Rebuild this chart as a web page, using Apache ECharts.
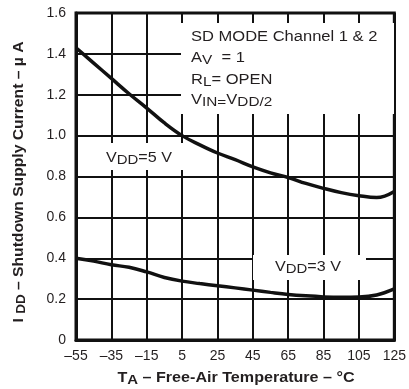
<!DOCTYPE html>
<html>
<head>
<meta charset="utf-8">
<script src="https://cdn.jsdelivr.net/npm/echarts@6/dist/echarts.min.js"></script>
<style>html,body{margin:0;padding:0;background:#fff;}#c{width:409px;height:389px;}</style>
</head>
<body>
<div id="c"></div>
<script>
// Temperature (°C), categories every 10 °C
const temps = [-55,-45,-35,-25,-15,-5,5,15,25,35,45,55,65,75,85,95,105,115,125];
// Shutdown supply current (µA)
const idd5V = [1.43,1.355,1.28,1.205,1.135,1.062,1.0,0.955,0.915,0.882,0.847,0.818,0.795,0.766,0.742,0.721,0.706,0.697,0.727];
const idd3V = [0.40,0.386,0.368,0.356,0.333,0.306,0.288,0.276,0.265,0.255,0.244,0.233,0.223,0.216,0.211,0.209,0.21,0.22,0.25];
const yTicks = [0,0.2,0.4,0.6,0.8,1.0,1.2,1.4,1.6];

const FONT = '"Liberation Sans", Arial, sans-serif';
const TXT = '#231f20';

const chart = echarts.init(document.getElementById('c'), null, {renderer:'canvas'});

function ann(x, y, text, scale) {
  return {
    type:'text', x:x, y:y, z:10, scaleX: scale || 1.16,
    style:{
      text:text, fill:TXT, font:'14px ' + FONT, fontSize:14, fontFamily:FONT,
      textAlign:'left', textVerticalAlign:'middle', align:'left', verticalAlign:'middle',
      rich:{
        n:{fontSize:14, fontFamily:FONT, lineHeight:18, fill:TXT, color:TXT},
        s:{fontSize:13, fontFamily:FONT, lineHeight:10, verticalAlign:'bottom', fill:TXT, color:TXT}
      }
    }
  };
}

const option = {
  backgroundColor:'#fff',
  animation:false,
  grid:{left:76, right:10, top:13, bottom:49, show:true, borderColor:'#111', borderWidth:3, backgroundColor:'transparent'},
  xAxis:{
    type:'category', boundaryGap:false,
    data: temps.map(String),
    axisLine:{lineStyle:{color:'#111', width:3}},
    axisTick:{show:false},
    axisLabel:{interval:1, margin:9, fontSize:14, fontFamily:FONT, color:TXT,
      formatter:v => String(v).replace('-', '\u2013')},
    splitLine:{show:true, interval:1, lineStyle:{color:'#111', width:2}}
  },
  yAxis:{
    type:'value', min:0, max:1.6, interval:0.2,
    axisLine:{show:true, lineStyle:{color:'#111', width:3}},
    axisTick:{show:false},
    axisLabel:{margin:10, fontSize:14, fontFamily:FONT, color:TXT,
      formatter:v => (Math.abs(v) < 1e-9 ? '0' : v.toFixed(1))},
    splitLine:{show:true, lineStyle:{color:'#111', width:2}}
  },
  series:[
    {type:'line', name:'VDD=5 V', data:idd5V, smooth:0.4, symbol:'none', z:5,
      lineStyle:{color:'#111', width:3.5}},
    {type:'line', name:'VDD=3 V', data:idd3V, smooth:0.4, symbol:'none', z:5,
      lineStyle:{color:'#111', width:3.5}}
  ],
  graphic:{elements:[
    {type:'rect', z:1, shape:{x:181, y:23, width:213, height:91}, style:{fill:'#fff'}},
    {type:'rect', z:1, shape:{x:100, y:143, width:89, height:27}, style:{fill:'#fff'}},
    {type:'rect', z:1, shape:{x:253, y:255, width:113, height:25}, style:{fill:'#fff'}},
    ann(191, 37, '{n|SD MODE Channel 1 & 2}', 1.18),
    ann(191, 58, '{n|A}{s|V}{n|  = 1}', 1.18),
    ann(191, 80, '{n|R}{s|L}{n|= OPEN}', 1.18),
    ann(191, 100, '{n|V}{s|IN=}{n|V}{s|DD/2}', 1.18),
    ann(106, 158, '{n|V}{s|DD}{n|=5 V}', 1.15),
    ann(275, 267, '{n|V}{s|DD}{n|=3 V}', 1.15),
    {type:'text', x:236, y:378, z:10, scaleX:1.15,
      style:{text:'{b|T}{bs|A}{b| \u2013 Free-Air Temperature \u2013 \u00B0C}',
        fill:TXT, font:'bold 14px ' + FONT, textAlign:'center', textVerticalAlign:'middle', align:'center', verticalAlign:'middle',
        rich:{
          b:{fontSize:14, fontWeight:'bold', fontFamily:FONT, lineHeight:18, fill:TXT, color:TXT},
          bs:{fontSize:13, fontWeight:'bold', fontFamily:FONT, lineHeight:10, verticalAlign:'bottom', fill:TXT, color:TXT}
        }}},
    {type:'text', x:19, y:182, z:10, rotation:Math.PI/2, scaleX:1.12,
      style:{text:'{b|I }{bs|DD}{b| \u2013 Shutdown Supply Current \u2013 \u00B5 A}',
        fill:TXT, font:'bold 14px ' + FONT, textAlign:'center', textVerticalAlign:'middle', align:'center', verticalAlign:'middle',
        rich:{
          b:{fontSize:14, fontWeight:'bold', fontFamily:FONT, lineHeight:18, fill:TXT, color:TXT},
          bs:{fontSize:12, fontWeight:'bold', fontFamily:FONT, lineHeight:10, verticalAlign:'bottom', fill:TXT, color:TXT}
        }}}
  ]}
};
chart.setOption(option);
</script>
</body>
</html>
